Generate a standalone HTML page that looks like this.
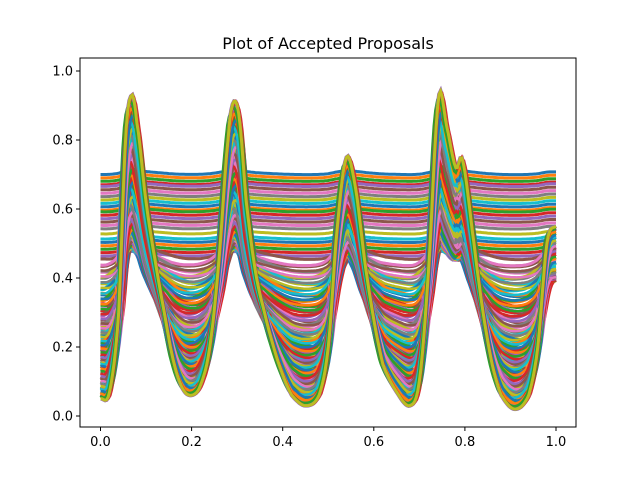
<!DOCTYPE html>
<html><head><meta charset="utf-8"><style>
body{margin:0;background:#fff}
svg{display:block;font-family:"DejaVu Sans","Liberation Sans",sans-serif}
</style></head><body>
<svg id="c" width="640" height="480">
<rect width="640" height="480" fill="#fff"/>
<text x="328" y="49" font-size="16" text-anchor="middle">Plot of Accepted Proposals</text>
<g id="lines"></g>
<rect x="80" y="58" width="496" height="369" fill="none" stroke="#000" stroke-width="1"/>
<g id="ticks"></g>
</svg>
<script>
const sigX=[0,0.02,0.04,0.055,0.068,0.08,0.1,0.12,0.14,0.16,0.18,0.2,0.22,0.24,0.26,0.28,0.292,0.305,0.32,0.34,0.36,0.38,0.4,0.42,0.45,0.48,0.5,0.52,0.54,0.56,0.58,0.6,0.62,0.65,0.68,0.7,0.72,0.742,0.76,0.78,0.795,0.82,0.84,0.86,0.88,0.91,0.94,0.96,0.98,1.0];
const sigY=[0.05,0.07,0.3,0.8,0.93,0.85,0.62,0.45,0.3,0.16,0.08,0.06,0.09,0.2,0.45,0.8,0.91,0.86,0.62,0.42,0.3,0.2,0.12,0.06,0.03,0.06,0.2,0.55,0.75,0.66,0.45,0.28,0.15,0.07,0.03,0.1,0.42,0.92,0.84,0.72,0.74,0.5,0.3,0.15,0.06,0.02,0.06,0.2,0.5,0.55];
const flatLevels=[0.71,0.70,0.69,0.68,0.675,0.665,0.655,0.645,0.635,0.625,0.615,0.605,0.6,0.59,0.58,0.57,0.56,0.55,0.535,0.52,0.51,0.5,0.49,0.48,0.47];
const blendLevels=[0.46,0.45,0.44,0.43,0.42,0.41,0.4,0.39,0.38,0.37,0.36,0.35,0.34,0.33,0.32,0.31,0.3,0.29,0.285,0.28,0.275,0.27,0.28,0.29,0.3,0.3,0.3,0.3,0.3,0.3,0.3,0.3,0.3,0.3,0.3,0.3,0.3,0.3,0.3,0.3];
const blendWeights=[0.06,0.08,0.1,0.12,0.14,0.16,0.18,0.2,0.22,0.24,0.26,0.28,0.3,0.32,0.34,0.36,0.38,0.4,0.42,0.44,0.46,0.48,0.5,0.53,0.56,0.59,0.62,0.65,0.68,0.71,0.74,0.77,0.8,0.83,0.86,0.89,0.92,0.95,0.98,1.0];
const blendShifts=[0.006,-0.005,0.004,-0.007,0.008,-0.003,0.005,-0.006,0.002,0.007,-0.008,0.003,-0.004,0.006,-0.002,0.008,-0.006,0.004,-0.008,0.005,0.001,-0.005,0.007,-0.003,0.006,-0.007,0.003,-0.005,0.008,-0.002,0.005,-0.008,0.004,-0.004,0.006,-0.006,0.002,0.005,-0.003,0.0];
const xTicks=["0.0","0.2","0.4","0.6","0.8","1.0"];
const yTicks=["0.0","0.2","0.4","0.6","0.8","1.0"];
const colors=["#1f77b4","#ff7f0e","#2ca02c","#d62728","#9467bd","#8c564b","#e377c2","#7f7f7f","#bcbd22","#17becf"];
const sx=v=>100.5+v*455.5, sy=v=>416-v*345;
const NS="http://www.w3.org/2000/svg";
const g=document.getElementById('lines');
function sig(x){x=Math.max(0,Math.min(1,x));const n=sigX.length;for(let i=1;i<n;i++){if(x<=sigX[i]){const t=(x-sigX[i-1])/(sigX[i]-sigX[i-1]);
const p0=sigY[Math.max(0,i-2)],p1=sigY[i-1],p2=sigY[i],p3=sigY[Math.min(n-1,i+1)];
const m1=(p2-p0)/2,m2=(p3-p1)/2;const t2=t*t,t3=t2*t;
return (2*t3-3*t2+1)*p1+(t3-2*t2+t)*m1+(-2*t3+3*t2)*p2+(t3-t2)*m2;}}return sigY[n-1];}
let ci=0;
function line(level,w,shift,width,col){let d="";for(let k=0;k<=300;k++){const x=k/300;const y=level*(1-w)+sig(x+shift)*w;d+=(k?"L":"M")+sx(x).toFixed(1)+","+sy(y).toFixed(1);}
const p=document.createElementNS(NS,'path');p.setAttribute('d',d);p.setAttribute('fill','none');p.setAttribute('stroke',col||colors[ci++%10]);p.setAttribute('stroke-width',width);


g.appendChild(p);}
flatLevels.forEach((l,i)=>line(l,0.015,0,3));
blendLevels.forEach((l,i)=>line(l,blendWeights[i],blendShifts[i],4));
blendLevels.forEach((l,i)=>line(l+0.02,blendWeights[i]*0.97,-blendShifts[i],3));
blendLevels.forEach((l,i)=>line(l-0.01,Math.min(1,blendWeights[i]*1.01+0.01),blendShifts[i]*0.5,2.5));
line(0.3,1.0,0,3,"#bcbd22");
const t=document.getElementById('ticks');
xTicks.forEach(v=>{const x=sx(+v);t.insertAdjacentHTML('beforeend',`<line x1="${x}" y1="427" x2="${x}" y2="431" stroke="#000"/><text x="${x}" y="446" font-size="13" text-anchor="middle">${v}</text>`);});
yTicks.forEach(v=>{const y=sy(+v);t.insertAdjacentHTML('beforeend',`<line x1="76" y1="${y}" x2="80" y2="${y}" stroke="#000"/><text x="73" y="${y+4.5}" font-size="13" text-anchor="end">${v}</text>`);});
</script>
</body></html>
